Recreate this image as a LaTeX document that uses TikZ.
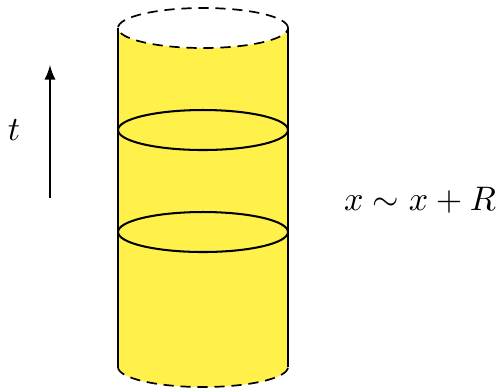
\documentclass[tikz,border=0pt]{standalone}
\definecolor{cylfill}{RGB}{255,241,74}
\begin{document}
\begin{tikzpicture}[x=0.294pt,y=0.294pt,
  rim/.style={line width=0.6pt},
  rimdash/.style={line width=0.5pt,dash pattern=on 3pt off 2pt}]
\useasboundingbox (0,0) rectangle (499,387);
% fill
\fill[cylfill] (118,359) arc[start angle=180,end angle=360,x radius=85,y radius=20]
  -- (288,20) arc[start angle=0,end angle=-180,x radius=85,y radius=20] -- cycle;
% top ellipse dashed
\draw[rimdash] (203,359) ellipse[x radius=85,y radius=20];
% bottom front dashed
\draw[rimdash] (118,20) arc[start angle=180,end angle=360,x radius=85,y radius=20];
% sides
\coordinate (tl) at (118,359);
\coordinate (bl) at (118,20);
\coordinate (tr) at (288,359);
\coordinate (br) at (288,20);
\draw[rim] (tl) -- (bl);
\draw[rim] (tr) -- (br);
% middle ellipses
\draw[rim] (203,257) ellipse[x radius=85,y radius=20];
\draw[rim] (203,155) ellipse[x radius=85,y radius=20];
% arrow
\coordinate (a0) at (50,189);
\coordinate (a1) at (50,322);
\draw[line width=0.5pt,-latex] (a0) -- (a1);
\node (t) at (14,257) {$t$};
\node (lab) at (420,187) {$x\sim x+R$};
\end{tikzpicture}
\end{document}
